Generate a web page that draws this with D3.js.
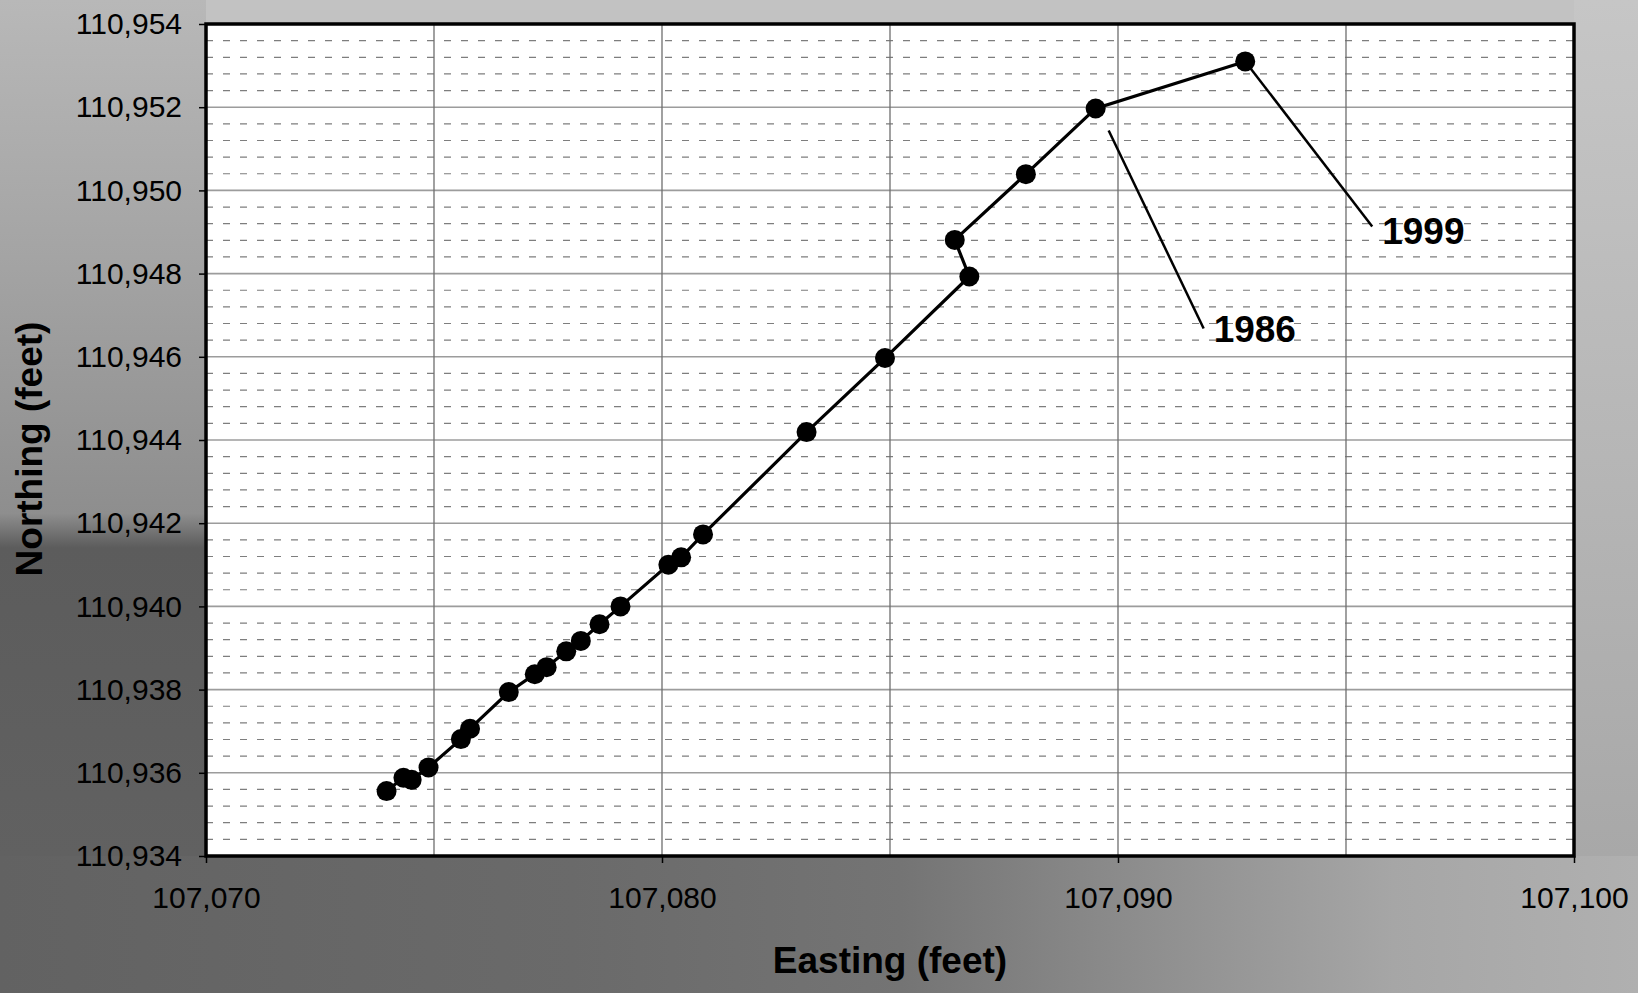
<!DOCTYPE html>
<meta charset="utf-8">
<style>
	body { margin: 0; background: #a8a8a8; }
	.tick-label { font: 30px "Liberation Sans", Arial, sans-serif; fill: #000; }
	.axis-title { font: bold 37px "Liberation Sans", Arial, sans-serif; fill: #000; }
	.year-label { font: bold 37px "Liberation Sans", Arial, sans-serif; fill: #000; }
</style>
<body>
<script src="https://d3js.org/d3.v7.min.js"></script>
<script>

	// survey points, in the order they are joined
	var easting = [107073.96, 107074.33, 107074.51, 107074.88, 107075.59, 107075.79, 107076.64,
		107077.21, 107077.47, 107077.90, 107078.22, 107078.63, 107079.09, 107080.14, 107080.42,
		107080.90, 107083.17, 107084.89, 107086.74, 107086.42, 107087.98, 107089.51, 107092.79];
	var northing = [110935.56, 110935.88, 110935.83, 110936.13, 110936.81, 110937.06, 110937.94,
		110938.37, 110938.54, 110938.92, 110939.17, 110939.57, 110940.00, 110941.00, 110941.18,
		110941.73, 110944.19, 110945.97, 110947.93, 110948.81, 110950.39, 110951.97, 110953.10];

	var xTicks = [107070, 107080, 107090, 107100];
	var xGrid = [107075, 107080, 107085, 107090, 107095];
	var yTicks = [110934, 110936, 110938, 110940, 110942, 110944, 110946, 110948, 110950, 110952, 110954];

	// labelled years and the point each one refers to
	var years = ["1986", "1999"];
	var yearPoint = [21, 22];

	var W = 1638, H = 993;
	var margin = {top: 24, right: 64, bottom: 137, left: 206};

	var x = d3.scaleLinear().domain([107070, 107100]).range([margin.left, W - margin.right]);
	var y = d3.scaleLinear().domain([110934, 110954]).range([H - margin.bottom, margin.top]);

	var svg = d3.select("body").append("svg")
		.attr("width", W)
		.attr("height", H);

	var defs = svg.append("defs");

	function gradient(id, x2, y2, stops) {
		var g = defs.append("linearGradient").attr("id", id)
			.attr("x1", 0).attr("y1", 0).attr("x2", x2).attr("y2", y2);
		stops.forEach(function(s) {
			g.append("stop").attr("offset", s[0]).attr("stop-color", s[1]);
		});
	}
	gradient("leftBg", 0, 1, [[0, "#b8b8b8"], [0.3, "#a4a4a4"], [0.6, "#8e8e8e"], [0.64, "#5c5c5c"], [1, "#616161"]]);
	gradient("bottomBg", 1, 0, [[0, "#626262"], [0.35, "#6a6a6a"], [0.55, "#747474"], [0.7, "#8e8e8e"], [0.85, "#a6a6a6"], [1, "#b0b0b0"]]);
	gradient("rightBg", 0, 1, [[0, "#c6c6c6"], [1, "#a8a8a8"]]);

	// scanned-paper background
	svg.append("rect").attr("width", W).attr("height", H).attr("fill", "#b0b0b0");
	svg.append("rect").attr("x", 0).attr("y", 0).attr("width", W).attr("height", margin.top).attr("fill", "#c2c2c2");
	svg.append("rect").attr("x", 0).attr("y", 0).attr("width", margin.left).attr("height", H - margin.bottom).attr("fill", "url(#leftBg)");
	svg.append("rect").attr("x", 0).attr("y", H - margin.bottom).attr("width", W).attr("height", margin.bottom).attr("fill", "url(#bottomBg)");
	svg.append("rect").attr("x", W - margin.right).attr("y", 0).attr("width", margin.right).attr("height", H - margin.bottom).attr("fill", "url(#rightBg)");

	var x0 = x.range()[0], x1 = x.range()[1];
	var y0 = y.range()[1], y1 = y.range()[0];

	// plot area
	svg.append("rect")
		.attr("x", x0).attr("y", y0)
		.attr("width", x1 - x0).attr("height", y1 - y0)
		.attr("fill", "#fff");

	// minor dashed grid, every 0.4 ft
	var minor = d3.range(110934, 110954.001, 0.4).filter(function(v) {
		return Math.abs((v - 110934) / 2 - Math.round((v - 110934) / 2)) > 0.01;
	});
	svg.append("g").selectAll("line")
		.data(minor)
		.enter().append("line")
		.attr("x1", x0).attr("x2", x1)
		.attr("y1", function(d) { return y(d); })
		.attr("y2", function(d) { return y(d); })
		.attr("stroke", "#7e7e7e")
		.attr("stroke-width", 1.2)
		.attr("stroke-dasharray", "7,10");

	// major grid
	svg.append("g").selectAll("line")
		.data(yTicks)
		.enter().append("line")
		.attr("x1", x0).attr("x2", x1)
		.attr("y1", function(d) { return y(d); })
		.attr("y2", function(d) { return y(d); })
		.attr("stroke", "#9c9c9c")
		.attr("stroke-width", 1.6);

	svg.append("g").selectAll("line")
		.data(xGrid)
		.enter().append("line")
		.attr("x1", function(d) { return x(d); })
		.attr("x2", function(d) { return x(d); })
		.attr("y1", y0).attr("y2", y1)
		.attr("stroke", "#6e6e6e")
		.attr("stroke-width", 1.3);

	// frame
	svg.append("rect")
		.attr("x", x0).attr("y", y0)
		.attr("width", x1 - x0).attr("height", y1 - y0)
		.attr("fill", "none")
		.attr("stroke", "#000")
		.attr("stroke-width", 3.5);

	// axes
	var yAxis = svg.append("g")
		.attr("transform", "translate(" + x0 + ",0)")
		.call(d3.axisLeft(y).tickValues(yTicks).tickSize(7).tickPadding(17).tickFormat(d3.format(",d")));
	var xAxis = svg.append("g")
		.attr("transform", "translate(0," + y1 + ")")
		.call(d3.axisBottom(x).tickValues(xTicks).tickSize(7).tickPadding(22).tickFormat(d3.format(",d")));

	[xAxis, yAxis].forEach(function(a) {
		a.select(".domain").remove();
		a.selectAll("line").attr("stroke", "#000").attr("stroke-width", 1.5);
		a.selectAll("text").attr("class", "tick-label").attr("font-size", null).attr("font-family", null);
	});
	xAxis.selectAll("text").attr("dy", "0.78em");

	// axis titles
	svg.append("text")
		.attr("class", "axis-title")
		.attr("x", (x0 + x1) / 2)
		.attr("y", 973)
		.attr("text-anchor", "middle")
		.text("Easting (feet)");

	svg.append("text")
		.attr("class", "axis-title")
		.attr("transform", "translate(42," + 449 + ") rotate(-90)")
		.attr("text-anchor", "middle")
		.text("Northing (feet)");

	// track and points
	var pts = easting.map(function(e, i) { return [e, northing[i]]; });

	var line = d3.line()
		.x(function(d) { return x(d[0]); })
		.y(function(d) { return y(d[1]); });

	svg.append("path")
		.datum(pts)
		.attr("d", line)
		.attr("fill", "none")
		.attr("stroke", "#000")
		.attr("stroke-width", 3.2);

	svg.append("g").selectAll("circle")
		.data(pts)
		.enter().append("circle")
		.attr("cx", function(d) { return x(d[0]); })
		.attr("cy", function(d) { return y(d[1]); })
		.attr("r", 10)
		.attr("fill", "#000");

	// year callouts: leader start offset, leader end offset, text offset (px from point)
	var callout = [
		{start: [13, 22], end: [108, 220], text: [118, 234]},
		{start: [0, 0], end: [127, 165], text: [137, 183]}
	];

	years.forEach(function(yr, i) {
		var p = pts[yearPoint[i]];
		var px = x(p[0]), py = y(p[1]);
		var c = callout[i];
		svg.append("line")
			.attr("x1", px + c.start[0]).attr("y1", py + c.start[1])
			.attr("x2", px + c.end[0]).attr("y2", py + c.end[1])
			.attr("stroke", "#000")
			.attr("stroke-width", 2.5);
		svg.append("text")
			.attr("class", "year-label")
			.attr("x", px + c.text[0])
			.attr("y", py + c.text[1])
			.text(yr);
	});

</script>
</body>
